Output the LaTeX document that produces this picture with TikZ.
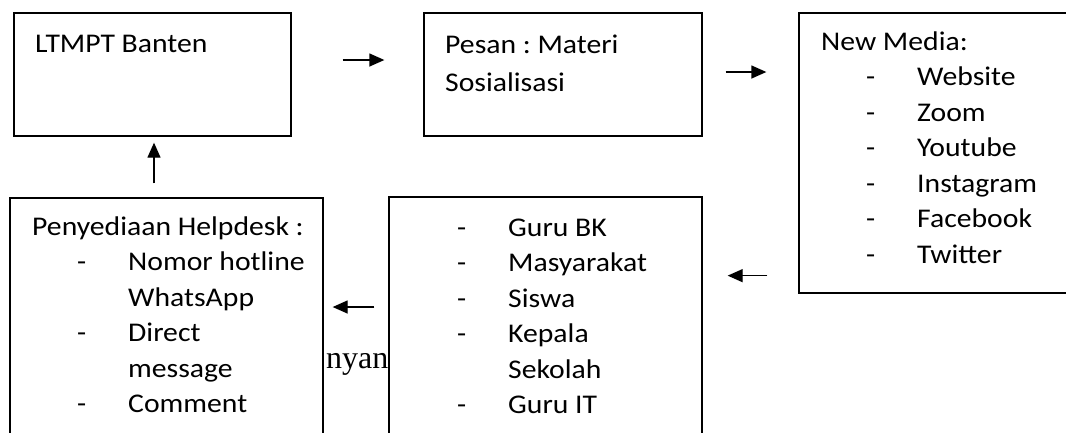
\documentclass[tikz,border=0pt]{standalone}
\usepackage{fontspec}
\setmainfont[FakeStretch=1.1]{Carlito}
\newfontfamily\bodyserif{Liberation Serif}
\usetikzlibrary{arrows.meta}
\usetikzlibrary{positioning}
\frenchspacing
\tikzset{
	box/.style={rectangle, draw, fill=white, line width=1.3pt, inner sep=0pt},
	boxtext/.style={anchor=base west, align=left, inner sep=0pt, font=\fontsize{27}{35.5}\selectfont},
	arrow/.style={draw, -{Triangle[length=15pt, width=13pt]}, line width=1.3pt}
}
\newcommand{\itm}[1]{\hspace*{45pt}\makebox[51pt][l]{-}#1}

\begin{document}
\begin{tikzpicture}[x=1pt, y=-1pt]

\useasboundingbox (0,0) rectangle (1066,432);
\clip (0,0) rectangle (1066,432);

\node[anchor=base west, inner sep=0pt, font=\bodyserif\fontsize{32}{38}\selectfont] (stray) at (326,368) {nyan};

% top row
\node[box, minimum width=277pt, minimum height=123pt] (ltmpt) at (152.5,74.5) {};
\node[boxtext] (ltmpttext) at (35,52) {LTMPT Banten};

\node[box, minimum width=278pt, minimum height=123pt] (pesan) at (563,74.5) {};
\node[boxtext, font=\fontsize{27}{38.4}\selectfont] (pesantext) at (445,91.4)
	{Pesan : Materi\\Sosialisasi};

\node[box, minimum width=281pt, minimum height=280pt] (media) at (939.5,153) {};
\node[boxtext] (mediatext) at (821,263)
	{New Media:\\\itm{Website}\\\itm{Zoom}\\\itm{Youtube}\\\itm{Instagram}\\\itm{Facebook}\\\itm{Twitter}};

% bottom row
\node[box, minimum width=313pt, minimum height=253pt] (sasaran) at (545.5,323.5) {};
\node[boxtext] (sasarantext) at (412,413.5)
	{\itm{Guru BK}\\\itm{Masyarakat}\\\itm{Siswa}\\\itm{Kepala}\\\hspace*{96pt}Sekolah\\\itm{Guru IT}};

\node[box, minimum width=313pt, minimum height=252pt] (helpdesk) at (166.5,324) {};
\node[boxtext] (helpdesktext) at (32,412.5)
	{Penyediaan Helpdesk :\\\itm{Nomor hotline}\\\hspace*{96pt}WhatsApp\\\itm{Direct}\\\hspace*{96pt}message\\\itm{Comment}};

\draw [arrow, shorten <=51pt, shorten >=39pt] ([yshift=14.5pt]ltmpt.east) -- ([yshift=14.5pt]ltmpt.east -| pesan.west);
\draw [arrow, shorten <=23pt, shorten >=32pt] ([yshift=2.5pt]pesan.east) -- ([yshift=2.5pt]pesan.east -| media.west);
\draw [arrow, shorten <=31pt, shorten >=25pt] ([yshift=18pt]media.south west) -- ([yshift=18pt]media.south west -| sasaran.east);
\draw [arrow, shorten <=14pt, shorten >=9pt] (sasaran.west |- 0,307) -- (helpdesk.east |- 0,307);
\draw [arrow, shorten <=14pt, shorten >=6pt] ([xshift=-12.5pt]helpdesk.north) -- ([xshift=-12.5pt]helpdesk.north |- ltmpt.south);

\end{tikzpicture}
\end{document}
